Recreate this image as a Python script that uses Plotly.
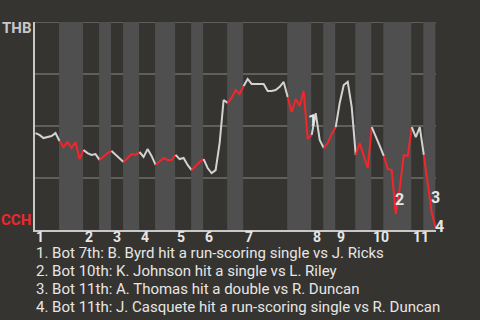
import plotly.graph_objects as go

# ---- data ----
# Win probability for THB (top) after each event, 0 = CCH wins
win_prob = [
    0.466, 0.457, 0.442, 0.447, 0.452, 0.466, 0.428, 0.399, 0.423, 0.394,
    0.423, 0.341, 0.385, 0.370, 0.361, 0.365, 0.337, 0.356, 0.370, 0.380,
    0.361, 0.341, 0.327, 0.346, 0.365, 0.361, 0.375, 0.351, 0.389, 0.356,
    0.313, 0.332, 0.346, 0.337, 0.337, 0.361, 0.341, 0.346, 0.313, 0.288,
    0.308, 0.327, 0.341, 0.298, 0.274, 0.288, 0.418, 0.625, 0.611, 0.635,
    0.673, 0.654, 0.692, 0.726, 0.702, 0.702, 0.702, 0.702, 0.668, 0.668,
    0.673, 0.688, 0.712, 0.639, 0.567, 0.630, 0.596, 0.668, 0.438, 0.457,
    0.562, 0.433, 0.394, 0.418, 0.462, 0.495, 0.611, 0.697, 0.712, 0.591,
    0.361, 0.418, 0.356, 0.298, 0.495, 0.452, 0.404, 0.356, 0.293, 0.288,
    0.077, 0.202, 0.361, 0.356, 0.495, 0.447, 0.495, 0.361, 0.226, 0.082,
    0.010,
]
# event index where each half inning starts (top 1, bot 1, top 2, ...), plus end
half_starts = [0, 6, 12, 16, 19, 22, 26, 30, 35, 39, 42, 48, 52, 63, 69, 72, 75, 80, 84, 87, 94, 97, 100]
inning_labels = ["1", "2", "3", "4", "5", "6", "7", "8", "9", "10", "11"]
grid_levels = [0.25, 0.5, 0.75, 1.0]
key_events = [69, 90, 99, 100]
key_labels = ["1", "2", "3", "4"]
key_shifts = [(1, 14), (4, 14), (4, 15), (4, 1)]
notes = [
    "1. Bot 7th: B. Byrd hit a run-scoring single vs J. Ricks",
    "2. Bot 10th: K. Johnson hit a single vs L. Riley",
    "3. Bot 11th: A. Thomas hit a double vs R. Duncan",
    "4. Bot 11th: J. Casquete hit a run-scoring single vs R. Duncan",
]
team_top, team_bottom = "THB", "CCH"

# ---- styles ----
BG = "#363430"
BAND = "#4f4f4f"
GRAY_LINE = "#d2d2d2"
GRID = "#8a8a8a"
RED = "#f2262b"
TEXT = "#e6e6e6"
FONT = "Roboto"
W, H = 480, 320
XL, XR, YT, YB = 35, 436, 22, 230

fig = go.Figure()

for k in range(len(half_starts) - 1):
    a, b = half_starts[k], half_starts[k + 1]
    bottom_half = k % 2 == 1
    fig.add_trace(go.Scatter(
        x=list(range(a, b + 1)), y=win_prob[a:b + 1], mode="lines",
        line=dict(color=RED if bottom_half else GRAY_LINE, width=2),
        hoverinfo="skip", showlegend=False, cliponaxis=False,
    ))
    if bottom_half:
        fig.add_shape(type="rect", xref="x", yref="y", x0=a - 0.12, x1=b - 0.12,
                      y0=0, y1=1, fillcolor=BAND, line=dict(width=0), layer="below")

for g in grid_levels:
    fig.add_shape(type="line", xref="paper", yref="y", x0=XL / W, x1=XR / W, y0=g, y1=g,
                  line=dict(color=GRID, width=1), layer="below")

ann = []
for i, lab in enumerate(inning_labels):
    ann.append(dict(x=half_starts[2 * i], y=(H - 237) / H, xref="x", yref="paper",
                    text=f"<b>{lab}</b>", showarrow=False, xanchor="left", yanchor="middle",
                    xshift=-1, font=dict(family=FONT, size=14, color=TEXT)))
for ev, lab, (dx, dy) in zip(key_events, key_labels, key_shifts):
    ann.append(dict(x=ev, y=win_prob[ev], xref="x", yref="y", text=f"<b>{lab}</b>",
                    showarrow=False, xanchor="center", yanchor="middle",
                    xshift=dx, yshift=dy, font=dict(family=FONT, size=16, color=TEXT)))
for j, line in enumerate(notes):
    ann.append(dict(x=34 / W, y=(H - (253 + 18 * j)) / H, xref="paper", yref="paper",
                    text=line, showarrow=False, xanchor="left", yanchor="middle",
                    font=dict(family=FONT, size=15, color=TEXT)))
ann.append(dict(x=33 / W, y=(H - 28) / H, xref="paper", yref="paper", text=f"<b>{team_top}</b>",
                showarrow=False, xanchor="right", yanchor="middle",
                font=dict(family=FONT, size=15, color="#c8c8c8")))
ann.append(dict(x=33 / W, y=(H - 220) / H, xref="paper", yref="paper", text=f"<b>{team_bottom}</b>",
                showarrow=False, xanchor="right", yanchor="middle",
                font=dict(family=FONT, size=15, color=RED)))

fig.update_layout(
    width=W, height=H, margin=dict(l=0, r=0, t=0, b=0),
    paper_bgcolor=BG, plot_bgcolor=BG,
    xaxis=dict(domain=[XL / W, XR / W], range=[-0.12, 100.05], showgrid=False,
               zeroline=False, showticklabels=False, ticks="",
               showline=True, linecolor="#c8c8c8", linewidth=2, fixedrange=True),
    yaxis=dict(domain=[(H - YB) / H, (H - YT) / H], range=[0, 1],
               showticklabels=False, ticks="", showgrid=False, zeroline=False,
               showline=True, linecolor="#c8c8c8", linewidth=2, fixedrange=True),
    annotations=ann, font=dict(family=FONT),
)

fig.write_html("out.html")
